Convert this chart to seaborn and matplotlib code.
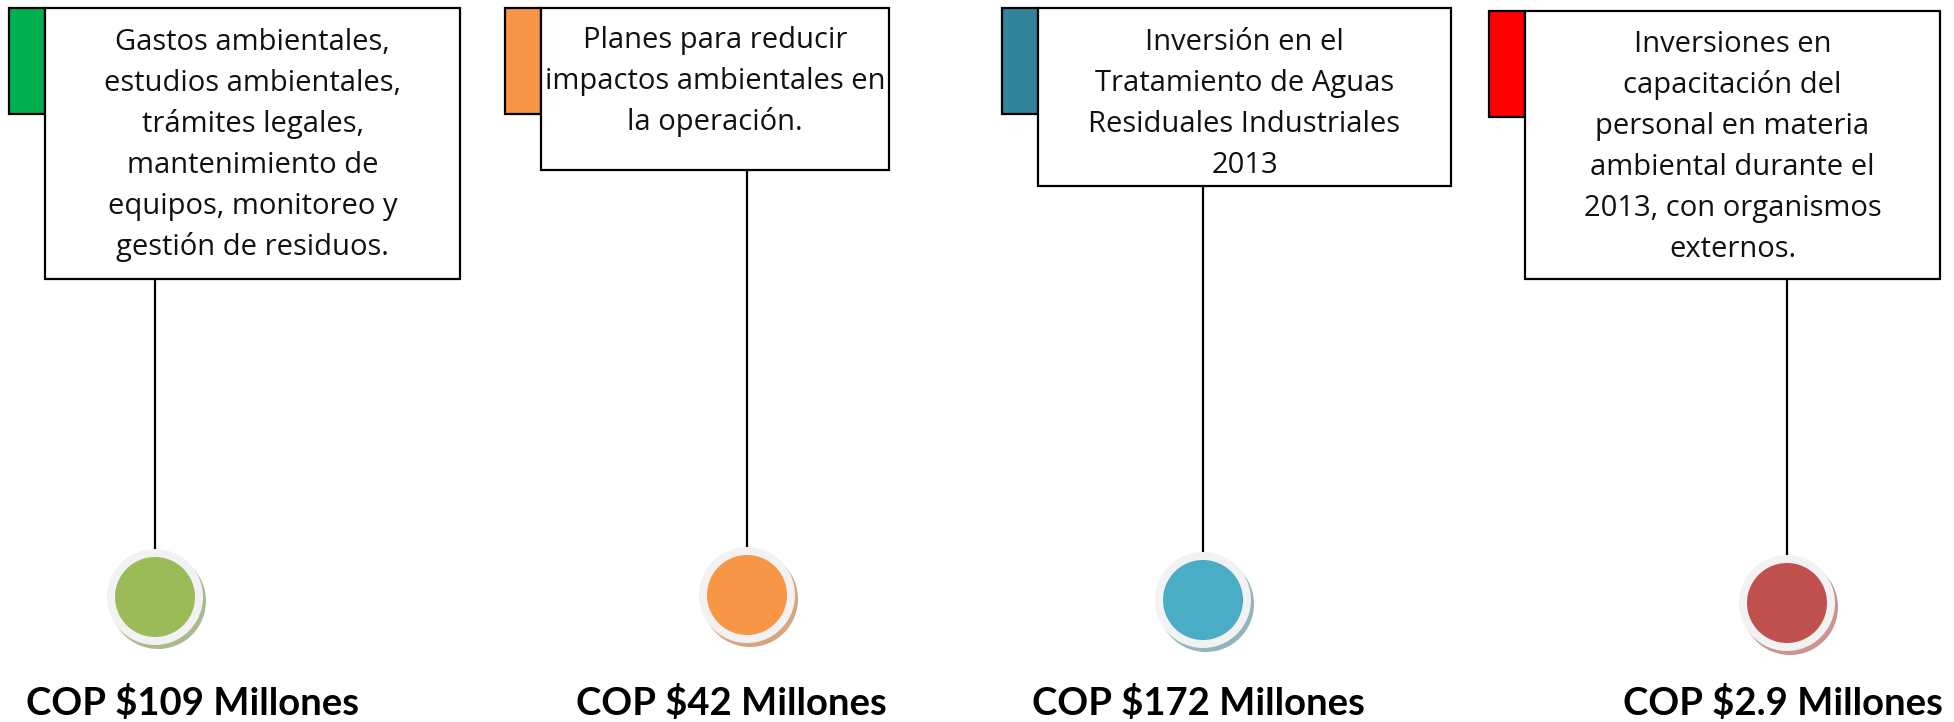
import matplotlib
matplotlib.use("Agg")
import matplotlib.pyplot as plt
from matplotlib.patches import Rectangle, Circle
import seaborn as sns
import pandas as pd

# ---- data ----
descriptions = [
    "Gastos ambientales,\nestudios ambientales,\ntrámites legales,\nmantenimiento de\nequipos, monitoreo y\ngestión de residuos.",
    "Planes para reducir\nimpactos ambientales en\nla operación.",
    "Inversión en el\nTratamiento de Aguas\nResiduales Industriales\n2013",
    "Inversiones en\ncapacitación del\npersonal en materia\nambiental durante el\n2013, con organismos\nexternos.",
]
amounts = ["COP $109 Millones", "COP $42 Millones", "COP $172 Millones", "COP $2.9 Millones"]
tab_colors = ["#00b050", "#f79646", "#31849b", "#ff0000"]
dot_colors = ["#9bbb59", "#f79646", "#4bacc6", "#c0504d"]
shadow_colors = ["#aab98f", "#d6a683", "#93b3bd", "#c99593"]

# ---- layout (pixels) ----
box_x0 = [45, 541, 1038, 1525]
box_x1 = [460, 889, 1451, 1940]
box_y0 = [8, 8, 8, 11]
box_y1 = [279, 170, 186, 279]
tab_w = 36
tab_h = 106
line_x = [155, 747, 1203, 1787]
circ_y = [597, 595, 600, 603]
first_base = [50, 48, 50, 52]
line_pitch = 41
amount_x = [193, 731, 1198, 1783]

W, H = 1954, 722
sns.set_theme(style="white")
plt.rcParams["font.family"] = ["Open Sans", "DejaVu Sans"]

fig = plt.figure(figsize=(W / 100, H / 100), dpi=100)
ax = fig.add_axes([0, 0, 1, 1])
ax.set_xlim(0, W)
ax.set_ylim(H, 0)
ax.axis("off")

for i in range(4):
    # connector line
    ax.plot([line_x[i], line_x[i]], [box_y1[i], circ_y[i] - 48], color="black", lw=1.6, zorder=1)
    # tab
    ax.add_patch(Rectangle((box_x0[i] - tab_w, box_y0[i]), tab_w, tab_h,
                           facecolor=tab_colors[i], edgecolor="black", lw=1.6, zorder=2))
    # box
    ax.add_patch(Rectangle((box_x0[i], box_y0[i]), box_x1[i] - box_x0[i], box_y1[i] - box_y0[i],
                           facecolor="white", edgecolor="black", lw=1.6, zorder=3))
    cx = (box_x0[i] + box_x1[i]) / 2
    for k, ln in enumerate(descriptions[i].split("\n")):
        ax.text(cx, first_base[i] + k * line_pitch, ln, ha="center", va="baseline",
                fontsize=21, color="#111111", family=["Open Sans", "DejaVu Sans"], zorder=4)
    # circle shadow + ring
    ax.add_patch(Circle((line_x[i] + 3, circ_y[i] + 4), 48, facecolor=shadow_colors[i],
                        edgecolor="none", zorder=2))
    ax.add_patch(Circle((line_x[i], circ_y[i]), 48, facecolor="#f2f2f2",
                        edgecolor="none", zorder=3))
    ax.text(amount_x[i], 715, amounts[i], ha="center", va="baseline",
            fontsize=27.5, fontweight="bold", color="black", family=["Lato", "DejaVu Sans"], zorder=4)

df = pd.DataFrame({"x": line_x, "y": circ_y, "c": dot_colors})
sns.scatterplot(data=df, x="x", y="y", hue="c", palette=dict(zip(dot_colors, dot_colors)),
                s=(80 * 0.72) ** 2, linewidth=0, legend=False, ax=ax, zorder=5)
ax.set_xlim(0, W)
ax.set_ylim(H, 0)
ax.axis("off")

fig.savefig("out.png", dpi=100, facecolor="white")
